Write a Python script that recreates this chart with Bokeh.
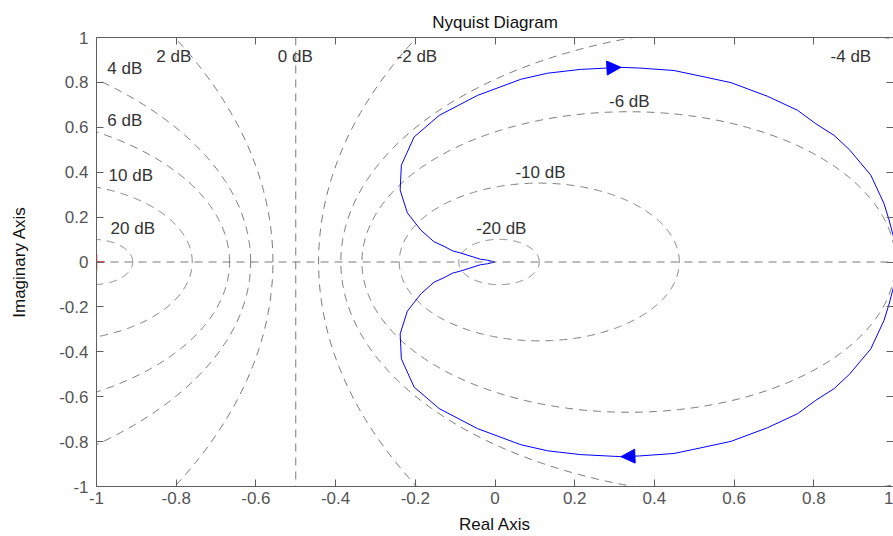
import numpy as np
from bokeh.plotting import figure
from bokeh.models import (LinearAxis, FixedTicker, Arrow, NormalHead, Range1d, Span)
from bokeh.core.properties import value
from bokeh.embed import file_html
from bokeh.resources import INLINE

# ---------------- data ----------------
# positive-frequency branch of the Nyquist curve (omega: 0 -> inf)
re_pos = [1.000, 1.000, 0.989, 0.976, 0.943, 0.889, 0.851, 0.805, 0.759, 0.684,
          0.592, 0.516, 0.449, 0.362, 0.316, 0.215, 0.132, 0.065, -0.044, -0.140,
          -0.203, -0.235, -0.238, -0.220, -0.186, -0.153, -0.128, -0.107, -0.086,
          -0.036, -0.019, 0.000]
im_pos = [0.000, -0.112, -0.187, -0.261, -0.387, -0.501, -0.564, -0.616, -0.676, -0.738,
          -0.799, -0.828, -0.853, -0.864, -0.867, -0.858, -0.841, -0.814, -0.742, -0.653,
          -0.557, -0.431, -0.320, -0.219, -0.142, -0.090, -0.070, -0.050, -0.040,
          -0.012, -0.008, 0.000]
arrow_index = 14          # point on the curve where the direction arrows sit

# M-circle grid levels (closed-loop magnitude, dB) and their labels
db_levels = [20, 10, 6, 4, 2, 0, -2, -4, -6, -10, -20]
db_labels = ["20 dB", "10 dB", "6 dB", "4 dB", "2 dB", "0 dB",
             "-2 dB", "-4 dB", "-6 dB", "-10 dB", "-20 dB"]
db_label_x = [-0.909, -0.914, -0.929, -0.929, -0.806, -0.501,
              -0.196, 0.893, 0.337, 0.114, 0.016]
db_label_y = [0.151, 0.387, 0.631, 0.862, 0.916, 0.916,
              0.916, 0.916, 0.717, 0.400, 0.151]

critical_x = [-1.0]
critical_y = [0.0]

x_ticks = [-1, -0.8, -0.6, -0.4, -0.2, 0, 0.2, 0.4, 0.6, 0.8, 1]
x_tick_labels = ["-1", "-0.8", "-0.6", "-0.4", "-0.2", "0", "0.2", "0.4", "0.6", "0.8", "1"]
y_ticks = [-1, -0.8, -0.6, -0.4, -0.2, 0, 0.2, 0.4, 0.6, 0.8, 1]
y_tick_labels = ["-1", "-0.8", "-0.6", "-0.4", "-0.2", "0", "0.2", "0.4", "0.6", "0.8", "1"]

# ---------------- styles ----------------
FONT = "Liberation Sans"
AXIS_COL = "#5f5f5f"
GRID_COL = "#7a7a7a"
CURVE_COL = "#0000ff"
FS = "17px"

p = figure(width=893, height=536, output_backend="svg", toolbar_location=None,
           x_range=Range1d(-1, 1), y_range=Range1d(-1, 1),
           min_border_left=96, min_border_right=0, min_border_top=37,
           min_border_bottom=48)
p.background_fill_color = "white"
p.border_fill_color = "white"
p.outline_line_color = None
p.xgrid.visible = False
p.ygrid.visible = False

p.title.text = "Nyquist Diagram"
p.title.align = "center"
p.title.text_font = FONT
p.title.text_font_size = FS
p.title.text_font_style = "normal"
p.title.text_color = "#111111"
p.title.standoff = 11

# ---------------- M-circle grid ----------------
theta = np.linspace(0, 2 * np.pi, 721)
grid_xs, grid_ys = [], []
for db in db_levels:
    if db == 0:
        continue
    M = 10 ** (db / 20.0)
    cx = -M * M / (M * M - 1)
    r = abs(M / (M * M - 1))
    grid_xs.append(list(cx + r * np.cos(theta)))
    grid_ys.append(list(r * np.sin(theta)))
p.multi_line(grid_xs, grid_ys, line_color=GRID_COL, line_width=1, line_dash="8 6")
# 0 dB locus (vertical line Re = -1/2) and the real axis
p.add_layout(Span(location=-0.5, dimension="height", line_color=GRID_COL,
                  line_width=1, line_dash="8 6"))
p.add_layout(Span(location=0, dimension="width", line_color=GRID_COL,
                  line_width=1, line_dash="8 6"))

p.text(x=db_label_x, y=db_label_y, text=db_labels, text_font=value(FONT),
       text_font_size=FS, text_align="center", text_baseline="middle",
       text_color="#333333")

# ---------------- Nyquist curve ----------------
re_neg = list(re_pos)
im_neg = [-v for v in im_pos]
p.line(re_pos, im_pos, line_color=CURVE_COL, line_width=1)
p.line(re_neg, im_neg, line_color=CURVE_COL, line_width=1)

k = arrow_index
p.add_layout(Arrow(x_start=re_pos[k - 1], y_start=im_pos[k - 1],
                   x_end=re_pos[k], y_end=im_pos[k], line_alpha=0,
                   end=NormalHead(size=14, fill_color=CURVE_COL, line_color=CURVE_COL)))
p.add_layout(Arrow(x_start=re_neg[k + 1], y_start=im_neg[k + 1],
                   x_end=re_neg[k], y_end=im_neg[k], line_alpha=0,
                   end=NormalHead(size=14, fill_color=CURVE_COL, line_color=CURVE_COL)))

p.scatter(critical_x, critical_y, marker="cross", size=16, line_color="red",
          line_width=1.5)

# ---------------- axes ----------------
def style_axis(ax, ticks, labels, show_labels=True):
    ax.ticker = FixedTicker(ticks=ticks)
    ax.axis_line_color = AXIS_COL
    ax.axis_line_width = 1
    ax.major_tick_line_color = AXIS_COL
    ax.major_tick_in = 7
    ax.major_tick_out = 0
    ax.minor_tick_line_color = None
    ax.major_label_text_font = FONT
    ax.axis_label_text_font = FONT
    ax.axis_label_text_font_style = "normal"
    ax.axis_label_text_color = "#111111"
    ax.axis_label_text_font_size = FS
    if show_labels:
        ax.major_label_overrides = dict(zip(ticks, labels))
        ax.major_label_text_font_size = FS
        ax.major_label_text_color = "#555555"
    else:
        ax.major_label_text_font_size = "0px"
        ax.major_label_text_color = None
        ax.major_label_standoff = 0

xa = p.xaxis[0]
style_axis(xa, x_ticks, x_tick_labels)
xa.axis_label = "Real Axis"
xa.major_label_standoff = 5
xa.axis_label_standoff = 8

ya = p.yaxis[0]
style_axis(ya, y_ticks, y_tick_labels)
ya.axis_label = "Imaginary Axis"
ya.major_label_standoff = 8
ya.axis_label_standoff = 27

top = LinearAxis()
style_axis(top, x_ticks, x_tick_labels, show_labels=False)
p.add_layout(top, "above")
right = LinearAxis()
style_axis(right, y_ticks, y_tick_labels, show_labels=False)
p.add_layout(right, "right")

open("out.html", "w").write(file_html(p, INLINE))
